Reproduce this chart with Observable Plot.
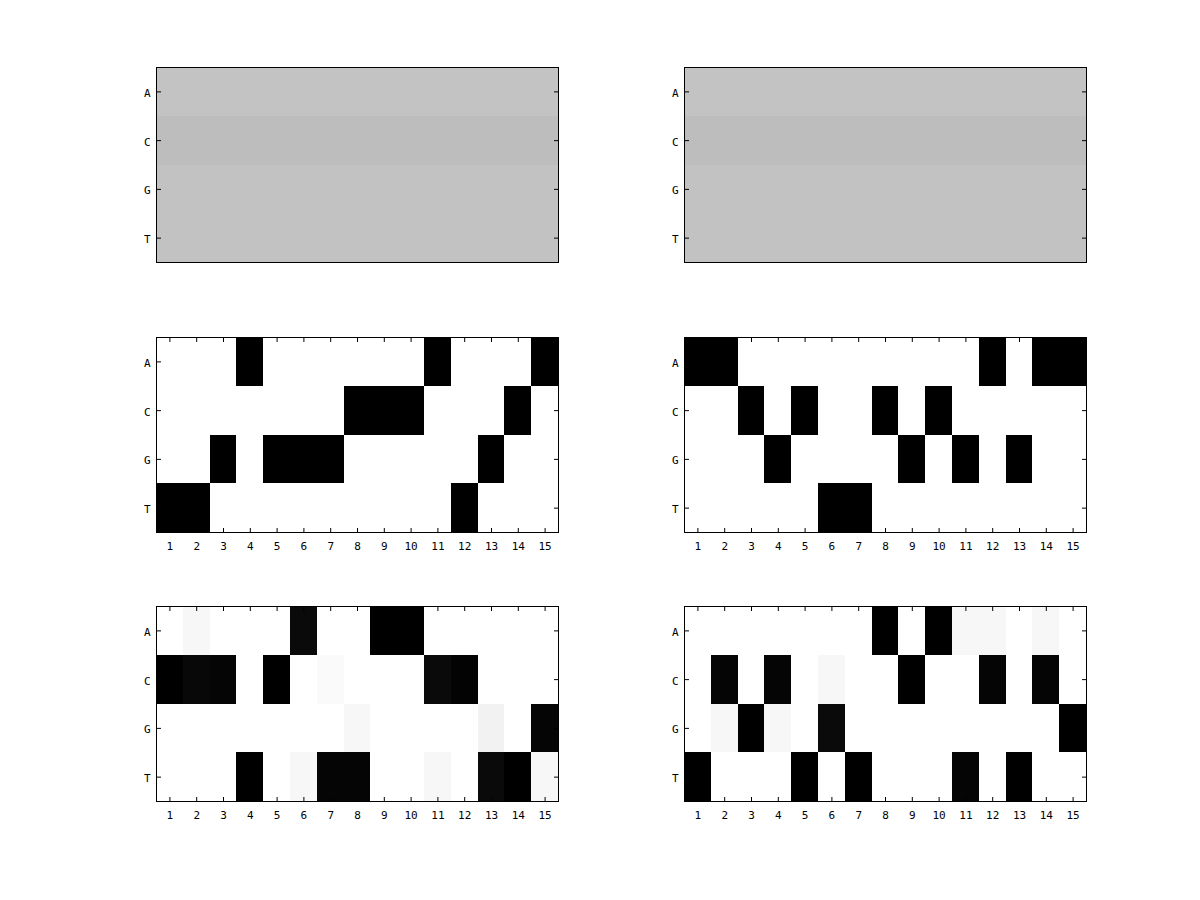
<!DOCTYPE html>
<html><head><meta charset="utf-8">
<script src="https://cdn.jsdelivr.net/npm/d3@7"></script>
<script src="https://cdn.jsdelivr.net/npm/@observablehq/plot@0.6"></script>
<style>
body{margin:0;background:#fff;}
#wrap{position:relative;width:1200px;height:900px;background:#fff;overflow:hidden;}
#wrap svg{position:absolute;}
</style></head><body><div id="wrap"></div>
<script>
// ---- data ----
const positions = [1,2,3,4,5,6,7,8,9,10,11,12,13,14,15];
const bases = ["A","C","G","T"];

// top row: uniform background probabilities per base
const backgroundLeft  = {A:0.235, C:0.26, G:0.24, T:0.24};
const backgroundRight = {A:0.235, C:0.26, G:0.24, T:0.24};

// middle row: one-hot sequences
const sequenceLeft  = ["T","T","G","A","G","G","G","C","C","C","A","T","G","C","A"];
const sequenceRight = ["A","A","C","G","C","T","T","C","G","C","G","A","G","A","A"];

// bottom row: profile matrices
const profileLeftA  = [0,0.03,0,0,0,0.96,0,0,1,1,0,0,0,0,0];
const profileLeftC  = [1,0.97,0.98,0,1,0,0.02,0,0,0,0.96,0.99,0,0,0];
const profileLeftG  = [0,0,0,0,0,0,0,0.03,0,0,0,0,0.05,0,0.98];
const profileLeftT  = [0,0,0,1,0,0.03,0.98,0.98,0,0,0.03,0,0.96,1,0.03];

const profileRightA = [0,0,0,0,0,0,0,1,0,1,0.03,0.03,0,0.03,0];
const profileRightC = [0,0.98,0,0.98,0,0.03,0,0,1,0,0,0.98,0,0.98,0];
const profileRightG = [0,0.03,1,0.03,0,0.96,0,0,0,0,0,0,0,0,1];
const profileRightT = [1,0,0,0,1,0,1,0,0,0,0.98,0,1,0,0];

// ---- tables ----
function fromBackground(bg){
  const out=[];
  positions.forEach(pos=>bases.forEach(b=>out.push({pos, base:b, p:bg[b]})));
  return out;
}
function fromSequence(seq){
  const out=[];
  positions.forEach((pos,i)=>bases.forEach(b=>out.push({pos, base:b, p: seq[i]===b?1:0})));
  return out;
}
function fromProfile(rows){
  const out=[];
  positions.forEach((pos,i)=>bases.forEach(b=>out.push({pos, base:b, p: rows[b][i]})));
  return out;
}

function panel(cells, showX){
  const marks = [
    Plot.cell(cells, {x:"pos", y:"base", fill:"p", inset:0, shapeRendering:"crispEdges"}),
    Plot.frame({stroke:"black"}),
    Plot.axisY({anchor:"left", tickSize:0, tickPadding:6, dy:1.5, label:null}),
    Plot.axisY({anchor:"left", tickSize:-5, tickFormat:()=>"", label:null}),
    Plot.axisY({anchor:"right", tickSize:-5, tickFormat:()=>"", label:null})
  ];
  if (showX){
    marks.push(
      Plot.axisX({anchor:"bottom", tickSize:0, tickPadding:10, label:null}),
      Plot.axisX({anchor:"bottom", tickSize:-4, tickFormat:()=>"", label:null}),
      Plot.axisX({anchor:"top", tickSize:-4, tickFormat:()=>"", label:null})
    );
  }
  return Plot.plot({
    width:442, height:235,
    marginLeft:30, marginRight:10, marginTop:10, marginBottom:30,
    x:{type:"band", domain:positions, padding:0, round:false, axis: showX ? undefined : null},
    y:{type:"band", domain:bases, padding:0, round:false},
    color:{type:"linear", domain:[0,1], range:["#ffffff","#000000"], interpolate:"rgb"},
    style:{fontFamily:"'DejaVu Sans Mono', monospace", fontSize:"11px", color:"black", background:"transparent"},
    marks
  });
}

const wrap = document.getElementById("wrap");
const panels = [
  {cells: fromBackground(backgroundLeft),  showX:false, left:156, top:67},
  {cells: fromBackground(backgroundRight), showX:false, left:684, top:67},
  {cells: fromSequence(sequenceLeft),      showX:true,  left:156, top:337},
  {cells: fromSequence(sequenceRight),     showX:true,  left:684, top:337},
  {cells: fromProfile({A:profileLeftA, C:profileLeftC, G:profileLeftG, T:profileLeftT}),   showX:true, left:156, top:606},
  {cells: fromProfile({A:profileRightA, C:profileRightC, G:profileRightG, T:profileRightT}), showX:true, left:684, top:606}
];
for (const p of panels){
  const svg = panel(p.cells, p.showX);
  svg.style.left = (p.left - 30) + "px";
  svg.style.top = (p.top - 10) + "px";
  wrap.appendChild(svg);
}
</script></body></html>
